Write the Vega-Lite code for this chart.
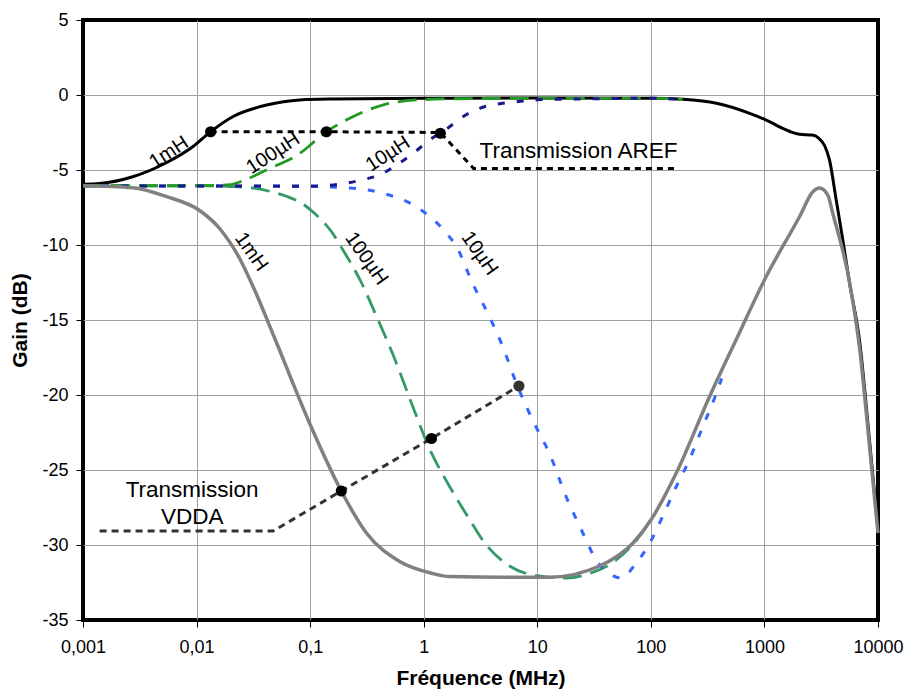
{
  "$schema": "https://vega.github.io/schema/vega-lite/v6.json",
  "width": 795,
  "height": 600,
  "autosize": {"type": "none"},
  "padding": {"left": 83, "top": 20, "right": 26, "bottom": 74},
  "background": "white",
  "view": {"stroke": "#000000", "strokeWidth": 4},
  "config": {"font": "Liberation Sans"},
  "datasets": {
    "curves": [
      {"s": "AREF 1mH", "f": 0.001, "g": -5.95},
      {"s": "AREF 1mH", "f": 0.0014, "g": -5.9},
      {"s": "AREF 1mH", "f": 0.00274, "g": -5.45},
      {"s": "AREF 1mH", "f": 0.00546, "g": -4.5},
      {"s": "AREF 1mH", "f": 0.00925, "g": -3.45},
      {"s": "AREF 1mH", "f": 0.0133, "g": -2.45},
      {"s": "AREF 1mH", "f": 0.0208, "g": -1.45},
      {"s": "AREF 1mH", "f": 0.0414, "g": -0.67},
      {"s": "AREF 1mH", "f": 0.081, "g": -0.33},
      {"s": "AREF 1mH", "f": 0.158, "g": -0.27},
      {"s": "AREF 1mH", "f": 1, "g": -0.22},
      {"s": "AREF 1mH", "f": 10, "g": -0.2},
      {"s": "AREF 1mH", "f": 100, "g": -0.22},
      {"s": "AREF 1mH", "f": 190, "g": -0.29},
      {"s": "AREF 1mH", "f": 378, "g": -0.55},
      {"s": "AREF 1mH", "f": 741, "g": -1.22},
      {"s": "AREF 1mH", "f": 1037, "g": -1.67},
      {"s": "AREF 1mH", "f": 1445, "g": -2.22},
      {"s": "AREF 1mH", "f": 2035, "g": -2.62},
      {"s": "AREF 1mH", "f": 2630, "g": -2.67},
      {"s": "AREF 1mH", "f": 3000, "g": -2.87},
      {"s": "AREF 1mH", "f": 3400, "g": -3.4},
      {"s": "AREF 1mH", "f": 3740, "g": -4.33},
      {"s": "AREF 1mH", "f": 4285, "g": -7},
      {"s": "AREF 1mH", "f": 4900, "g": -9.67},
      {"s": "AREF 1mH", "f": 5610, "g": -12.5},
      {"s": "AREF 1mH", "f": 6860, "g": -16.3},
      {"s": "AREF 1mH", "f": 8410, "g": -23},
      {"s": "AREF 1mH", "f": 10000, "g": -29},

      {"s": "AREF 100µH", "f": 0.001, "g": -6.05},
      {"s": "AREF 100µH", "f": 0.01, "g": -6.05},
      {"s": "AREF 100µH", "f": 0.02, "g": -5.97},
      {"s": "AREF 100µH", "f": 0.024, "g": -5.8},
      {"s": "AREF 100µH", "f": 0.0411, "g": -5.0},
      {"s": "AREF 100µH", "f": 0.0807, "g": -3.9},
      {"s": "AREF 100µH", "f": 0.139, "g": -2.45},
      {"s": "AREF 100µH", "f": 0.223, "g": -1.55},
      {"s": "AREF 100µH", "f": 0.435, "g": -0.67},
      {"s": "AREF 100µH", "f": 0.863, "g": -0.33},
      {"s": "AREF 100µH", "f": 2, "g": -0.25},
      {"s": "AREF 100µH", "f": 10, "g": -0.22},
      {"s": "AREF 100µH", "f": 100, "g": -0.22},
      {"s": "AREF 100µH", "f": 190, "g": -0.29},

      {"s": "AREF 10µH", "f": 0.001, "g": -6.07},
      {"s": "AREF 10µH", "f": 0.1, "g": -6.07},
      {"s": "AREF 10µH", "f": 0.2, "g": -5.9},
      {"s": "AREF 10µH", "f": 0.2825, "g": -5.67},
      {"s": "AREF 10µH", "f": 0.424, "g": -5.27},
      {"s": "AREF 10µH", "f": 0.574, "g": -4.67},
      {"s": "AREF 10µH", "f": 0.804, "g": -3.9},
      {"s": "AREF 10µH", "f": 1.127, "g": -3.0},
      {"s": "AREF 10µH", "f": 1.633, "g": -2.2},
      {"s": "AREF 10µH", "f": 2.213, "g": -1.45},
      {"s": "AREF 10µH", "f": 3.1, "g": -0.89},
      {"s": "AREF 10µH", "f": 4.5, "g": -0.6},
      {"s": "AREF 10µH", "f": 6.53, "g": -0.45},
      {"s": "AREF 10µH", "f": 10, "g": -0.32},
      {"s": "AREF 10µH", "f": 30, "g": -0.25},
      {"s": "AREF 10µH", "f": 100, "g": -0.22},
      {"s": "AREF 10µH", "f": 190, "g": -0.29},

      {"s": "VDDA 100µH", "f": 0.001, "g": -6.05},
      {"s": "VDDA 100µH", "f": 0.01, "g": -6.05},
      {"s": "VDDA 100µH", "f": 0.02, "g": -6.1},
      {"s": "VDDA 100µH", "f": 0.0314, "g": -6.2},
      {"s": "VDDA 100µH", "f": 0.0441, "g": -6.42},
      {"s": "VDDA 100µH", "f": 0.0617, "g": -6.75},
      {"s": "VDDA 100µH", "f": 0.0895, "g": -7.35},
      {"s": "VDDA 100µH", "f": 0.1135, "g": -8.0},
      {"s": "VDDA 100µH", "f": 0.1538, "g": -9.1},
      {"s": "VDDA 100µH", "f": 0.197, "g": -10.4},
      {"s": "VDDA 100µH", "f": 0.2825, "g": -12.5},
      {"s": "VDDA 100µH", "f": 0.376, "g": -14.6},
      {"s": "VDDA 100µH", "f": 0.536, "g": -17.3},
      {"s": "VDDA 100µH", "f": 0.804, "g": -20.8},
      {"s": "VDDA 100µH", "f": 1.127, "g": -23.6},
      {"s": "VDDA 100µH", "f": 1.69, "g": -26.1},
      {"s": "VDDA 100µH", "f": 2.535, "g": -28.3},
      {"s": "VDDA 100µH", "f": 3.32, "g": -29.7},
      {"s": "VDDA 100µH", "f": 5.7, "g": -31.4},
      {"s": "VDDA 100µH", "f": 9.14, "g": -32},
      {"s": "VDDA 100µH", "f": 18, "g": -32.2},
      {"s": "VDDA 100µH", "f": 28.8, "g": -31.9},
      {"s": "VDDA 100µH", "f": 49.5, "g": -31},
      {"s": "VDDA 100µH", "f": 74.3, "g": -29.7},
      {"s": "VDDA 100µH", "f": 100.7, "g": -28.3},

      {"s": "VDDA 10µH", "f": 0.001, "g": -6.05},
      {"s": "VDDA 10µH", "f": 0.1, "g": -6.1},
      {"s": "VDDA 10µH", "f": 0.223, "g": -6.2},
      {"s": "VDDA 10µH", "f": 0.435, "g": -6.55},
      {"s": "VDDA 10µH", "f": 0.861, "g": -7.45},
      {"s": "VDDA 10µH", "f": 1.58, "g": -9.2},
      {"s": "VDDA 10µH", "f": 1.94, "g": -10.1},
      {"s": "VDDA 10µH", "f": 2.71, "g": -12.6},
      {"s": "VDDA 10µH", "f": 3.8, "g": -14.8},
      {"s": "VDDA 10µH", "f": 4.98, "g": -16.8},
      {"s": "VDDA 10µH", "f": 6.53, "g": -19.2},
      {"s": "VDDA 10µH", "f": 9.14, "g": -21.7},
      {"s": "VDDA 10µH", "f": 12.8, "g": -23.9},
      {"s": "VDDA 10µH", "f": 18, "g": -26.8},
      {"s": "VDDA 10µH", "f": 25.2, "g": -29.2},
      {"s": "VDDA 10µH", "f": 33, "g": -31},
      {"s": "VDDA 10µH", "f": 43.3, "g": -31.9},
      {"s": "VDDA 10µH", "f": 54.8, "g": -32.2},
      {"s": "VDDA 10µH", "f": 74.3, "g": -31.2},
      {"s": "VDDA 10µH", "f": 97.3, "g": -29.9},
      {"s": "VDDA 10µH", "f": 127, "g": -28.1},
      {"s": "VDDA 10µH", "f": 167.5, "g": -26.1},
      {"s": "VDDA 10µH", "f": 219, "g": -24.3},
      {"s": "VDDA 10µH", "f": 287, "g": -22.1},
      {"s": "VDDA 10µH", "f": 377, "g": -19.9},
      {"s": "VDDA 10µH", "f": 420, "g": -18.9},

      {"s": "VDDA 1mH", "f": 0.001, "g": -6.05},
      {"s": "VDDA 1mH", "f": 0.00274, "g": -6.18},
      {"s": "VDDA 1mH", "f": 0.00546, "g": -6.78},
      {"s": "VDDA 1mH", "f": 0.01064, "g": -7.7},
      {"s": "VDDA 1mH", "f": 0.01596, "g": -8.9},
      {"s": "VDDA 1mH", "f": 0.02393, "g": -10.9},
      {"s": "VDDA 1mH", "f": 0.03243, "g": -13.0},
      {"s": "VDDA 1mH", "f": 0.04864, "g": -16.2},
      {"s": "VDDA 1mH", "f": 0.0991, "g": -21.9},
      {"s": "VDDA 1mH", "f": 0.188, "g": -26.4},
      {"s": "VDDA 1mH", "f": 0.313, "g": -29.2},
      {"s": "VDDA 1mH", "f": 0.614, "g": -31.1},
      {"s": "VDDA 1mH", "f": 1.197, "g": -31.9},
      {"s": "VDDA 1mH", "f": 1.69, "g": -32.1},
      {"s": "VDDA 1mH", "f": 5, "g": -32.15},
      {"s": "VDDA 1mH", "f": 12.8, "g": -32.15},
      {"s": "VDDA 1mH", "f": 35.3, "g": -31.4},
      {"s": "VDDA 1mH", "f": 69, "g": -29.9},
      {"s": "VDDA 1mH", "f": 100.7, "g": -28.3},
      {"s": "VDDA 1mH", "f": 167.5, "g": -25.2},
      {"s": "VDDA 1mH", "f": 328.9, "g": -20.1},
      {"s": "VDDA 1mH", "f": 565, "g": -16.3},
      {"s": "VDDA 1mH", "f": 1037, "g": -12.1},
      {"s": "VDDA 1mH", "f": 2042, "g": -8.1},
      {"s": "VDDA 1mH", "f": 2667, "g": -6.45},
      {"s": "VDDA 1mH", "f": 3055, "g": -6.2},
      {"s": "VDDA 1mH", "f": 3614, "g": -6.67},
      {"s": "VDDA 1mH", "f": 4000, "g": -7.9},
      {"s": "VDDA 1mH", "f": 5623, "g": -12.5},
      {"s": "VDDA 1mH", "f": 6918, "g": -17},
      {"s": "VDDA 1mH", "f": 8318, "g": -23},
      {"s": "VDDA 1mH", "f": 10000, "g": -29.2}
    ],
    "annotations": [
      {"s": "AREF", "f": 0.0133, "g": -2.45},
      {"s": "AREF", "f": 0.139, "g": -2.45},
      {"s": "AREF", "f": 1.4, "g": -2.5},
      {"s": "AREF", "f": 2.75, "g": -4.9},
      {"s": "AREF", "f": 161, "g": -4.9},
      {"s": "VDDA", "f": 0.0014, "g": -29.07},
      {"s": "VDDA", "f": 0.0471, "g": -29.07},
      {"s": "VDDA", "f": 0.188, "g": -26.4},
      {"s": "VDDA", "f": 1.17, "g": -22.9},
      {"s": "VDDA", "f": 6.89, "g": -19.4}
    ],
    "dots": [
      {"s": "AREF", "f": 0.0133, "g": -2.45},
      {"s": "AREF", "f": 0.139, "g": -2.45},
      {"s": "AREF", "f": 1.4, "g": -2.55},
      {"s": "VDDA", "f": 0.188, "g": -26.4},
      {"s": "VDDA", "f": 1.17, "g": -22.9},
      {"s": "VDDA end", "f": 6.89, "g": -19.4}
    ],
    "labels": [
      {"s": "AREF", "f": 0.0057, "g": -3.83, "t": "1mH"},
      {"s": "AREF", "f": 0.0471, "g": -3.89, "t": "100µH"},
      {"s": "AREF", "f": 0.484, "g": -3.93, "t": "10µH"},
      {"s": "VDDA", "f": 0.0303, "g": -10.45, "t": "1mH"},
      {"s": "VDDA", "f": 0.313, "g": -10.9, "t": "100µH"},
      {"s": "VDDA", "f": 3.1, "g": -10.56, "t": "10µH"}
    ],
    "notes": [
      {"s": "AREF", "f": 3.1, "g": -3.75, "t": "Transmission AREF"},
      {"s": "VDDA", "f": 0.00914, "g": -26.33, "t": "Transmission"},
      {"s": "VDDA", "f": 0.00914, "g": -28.1, "t": "VDDA"}
    ]
  },
  "encoding": {
    "x": {
      "field": "f",
      "type": "quantitative",
      "scale": {"type": "log", "domain": [0.001, 10000], "nice": false},
      "axis": {
        "title": "Fréquence (MHz)",
        "values": [0.001, 0.01, 0.1, 1, 10, 100, 1000, 10000],
        "labelExpr": "replace(toString(datum.value), '.', ',')",
        "grid": true,
        "gridColor": {"condition": {"test": "datum.value <= 0.001 || datum.value >= 10000", "value": "#000000"}, "value": "#a0a0a0"},
        "gridWidth": 1,
        "domain": false,
        "ticks": true,
        "tickColor": "#000000",
        "tickSize": 7,
        "tickWidth": 1,
        "labelPadding": 11,
        "labelFont": "Liberation Sans",
        "labelFontSize": 18,
        "labelColor": "#000000",
        "labelFlush": false,
        "labelOverlap": false,
        "titleFont": "Liberation Sans",
        "titleFontSize": 21,
        "titleFontWeight": "bold",
        "titleColor": "#000000",
        "titlePadding": 11
      }
    },
    "y": {
      "field": "g",
      "type": "quantitative",
      "scale": {"domain": [-35, 5], "nice": false, "zero": false},
      "axis": {
        "title": "Gain (dB)",
        "values": [-35, -30, -25, -20, -15, -10, -5, 0, 5],
        "labelExpr": "toString(datum.value)",
        "grid": true,
        "gridColor": {"condition": {"test": "datum.value <= -35 || datum.value >= 5", "value": "#000000"}, "value": "#a0a0a0"},
        "gridWidth": 1,
        "domain": false,
        "ticks": true,
        "tickColor": "#000000",
        "tickSize": 7,
        "tickWidth": 1,
        "labelPadding": 8,
        "labelFont": "Liberation Sans",
        "labelFontSize": 18,
        "labelColor": "#000000",
        "labelFlush": false,
        "labelOverlap": false,
        "titleFont": "Liberation Sans",
        "titleFontSize": 21,
        "titleFontWeight": "bold",
        "titleColor": "#000000",
        "titlePadding": 11
      }
    }
  },
  "layer": [
    {
      "data": {"name": "curves"},
      "transform": [{"filter": {"field": "s", "equal": "AREF 1mH"}}],
      "mark": {"type": "line", "color": "#000000", "strokeWidth": 3, "interpolate": "monotone"}
    },
    {
      "data": {"name": "curves"},
      "transform": [{"filter": {"field": "s", "equal": "VDDA 100µH"}}],
      "mark": {"type": "line", "color": "#339966", "strokeWidth": 2.8, "strokeDash": [19, 9], "interpolate": "monotone"}
    },
    {
      "data": {"name": "curves"},
      "transform": [{"filter": {"field": "s", "equal": "VDDA 10µH"}}],
      "mark": {"type": "line", "color": "#3366ff", "strokeWidth": 3, "strokeDash": [7, 12], "interpolate": "monotone"}
    },
    {
      "data": {"name": "curves"},
      "transform": [{"filter": {"field": "s", "equal": "AREF 100µH"}}],
      "mark": {"type": "line", "color": "#229922", "strokeWidth": 2.8, "strokeDash": [19, 9], "interpolate": "monotone"}
    },
    {
      "data": {"name": "curves"},
      "transform": [{"filter": {"field": "s", "equal": "AREF 10µH"}}],
      "mark": {"type": "line", "color": "#1a1a8c", "strokeWidth": 3, "strokeDash": [7, 12], "interpolate": "monotone"}
    },
    {
      "data": {"name": "curves"},
      "transform": [{"filter": {"field": "s", "equal": "VDDA 1mH"}}],
      "mark": {"type": "line", "color": "#808080", "strokeWidth": 3.5, "interpolate": "monotone"}
    },
    {
      "data": {"name": "annotations"},
      "transform": [{"filter": {"field": "s", "equal": "AREF"}}],
      "mark": {"type": "line", "color": "#000000", "strokeWidth": 3, "strokeDash": [6, 5]}
    },
    {
      "data": {"name": "annotations"},
      "transform": [{"filter": {"field": "s", "equal": "VDDA"}}],
      "mark": {"type": "line", "color": "#333333", "strokeWidth": 3, "strokeDash": [7, 5]}
    },
    {
      "data": {"name": "dots"},
      "transform": [{"filter": {"field": "s", "oneOf": ["AREF", "VDDA"]}}],
      "mark": {"type": "circle", "color": "#000000", "size": 125, "opacity": 1}
    },
    {
      "data": {"name": "dots"},
      "transform": [{"filter": {"field": "s", "equal": "VDDA end"}}],
      "mark": {"type": "circle", "color": "#333333", "size": 125, "opacity": 1}
    },
    {
      "data": {"name": "labels"},
      "transform": [{"filter": {"field": "s", "equal": "AREF"}}],
      "mark": {"type": "text", "font": "Liberation Sans", "fontSize": 20, "color": "#000000", "angle": 327, "align": "center", "baseline": "middle"},
      "encoding": {"text": {"field": "t"}}
    },
    {
      "data": {"name": "labels"},
      "transform": [{"filter": {"field": "s", "equal": "VDDA"}}],
      "mark": {"type": "text", "font": "Liberation Sans", "fontSize": 20, "color": "#000000", "angle": 55, "align": "center", "baseline": "middle"},
      "encoding": {"text": {"field": "t"}}
    },
    {
      "data": {"name": "notes"},
      "transform": [{"filter": {"field": "s", "equal": "AREF"}}],
      "mark": {"type": "text", "font": "Liberation Sans", "fontSize": 22.5, "color": "#000000", "align": "left", "baseline": "middle"},
      "encoding": {"text": {"field": "t"}}
    },
    {
      "data": {"name": "notes"},
      "transform": [{"filter": {"field": "s", "equal": "VDDA"}}],
      "mark": {"type": "text", "font": "Liberation Sans", "fontSize": 22.5, "color": "#000000", "align": "center", "baseline": "middle"},
      "encoding": {"text": {"field": "t"}}
    }
  ]
}
